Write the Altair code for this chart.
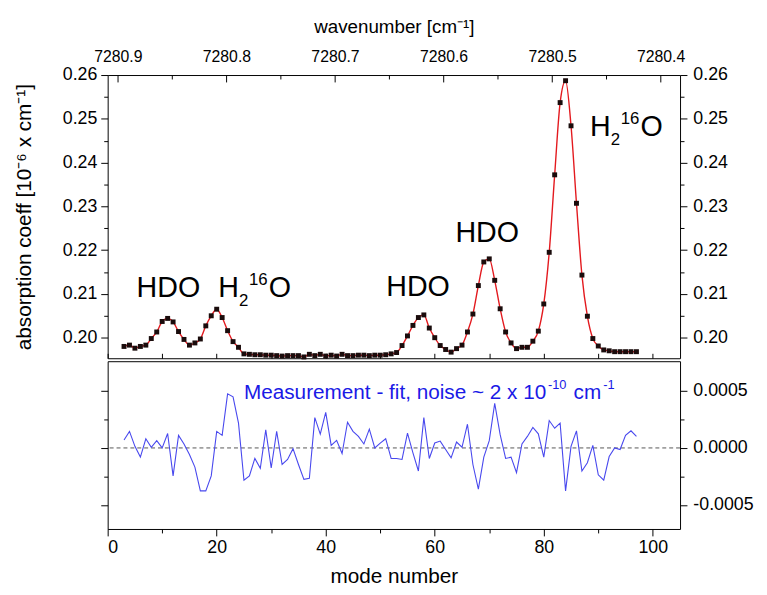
import altair as alt
import pandas as pd

# ---------------- data ----------------
modes = [3, 4, 5, 6, 7, 8, 9, 10, 11, 12, 13, 14, 15, 16, 17, 18, 19, 20, 21, 22,
         23, 24, 25, 26, 27, 28, 29, 30, 31, 32, 33, 34, 35, 36, 37, 38, 39, 40, 41, 42,
         43, 44, 45, 46, 47, 48, 49, 50, 51, 52, 53, 54, 55, 56, 57, 58, 59, 60, 61, 62,
         63, 64, 65, 66, 67, 68, 69, 70, 71, 72, 73, 74, 75, 76, 77, 78, 79, 80, 81, 82,
         83, 84, 85, 86, 87, 88, 89, 90, 91, 92, 93, 94, 95, 96, 97]

absorption = [0.1980, 0.1983, 0.1976, 0.1980, 0.1983, 0.1998, 0.2013, 0.2037, 0.2044, 0.2036,
              0.2014, 0.1996, 0.1983, 0.1988, 0.1997, 0.2027, 0.2050, 0.2065, 0.2046, 0.2016,
              0.1991, 0.1978, 0.1963, 0.1962, 0.1961, 0.1961, 0.1960, 0.1960, 0.1959, 0.1958,
              0.1959, 0.1959, 0.1959, 0.1956, 0.1962, 0.1959, 0.1962, 0.1958, 0.1960, 0.1958,
              0.1962, 0.1959, 0.1959, 0.1960, 0.1960, 0.1959, 0.1960, 0.1960, 0.1961, 0.1963,
              0.1966, 0.1982, 0.2004, 0.2028, 0.2046, 0.2052, 0.2022, 0.2000, 0.1982, 0.1973,
              0.1967, 0.1975, 0.1983, 0.2013, 0.2054, 0.2119, 0.2173, 0.2180, 0.2131, 0.2066,
              0.2013, 0.1988, 0.1975, 0.1978, 0.1978, 0.1992, 0.2015, 0.2077, 0.2195, 0.2372,
              0.2537, 0.2587, 0.2484, 0.2307, 0.2143, 0.2049, 0.1998, 0.1981, 0.1972, 0.1970,
              0.1968, 0.1968, 0.1968, 0.1968, 0.1968]

residual = [0.000070, 0.000145, 0.000014, -0.000080, 0.000080, 0.000006, 0.000064, 0.000000,
            0.000127, -0.000245, 0.000110, 0.000035, -0.000058, -0.000168, -0.000376, -0.000376,
            -0.000245, 0.000145, 0.000110, 0.000474, 0.000448, 0.000217, -0.000283, -0.000245,
            -0.000092, -0.000179, 0.000159, -0.000176, 0.000145, -0.000145, -0.000101, -0.000006,
            -0.000145, -0.000275, -0.000266, 0.000266, 0.000121, 0.000312, 0.000023, 0.000066,
            -0.000049, 0.000225, 0.000145, 0.000101, 0.000035, 0.000165, 0.000000, 0.000043,
            0.000081, -0.000092, -0.000092, -0.000101, 0.000130, -0.000043, -0.000202, 0.000266,
            -0.000092, 0.000043, 0.000060, -0.000014, -0.000087, 0.000052, 0.000006, 0.000208,
            -0.000145, -0.000361, -0.000081, 0.000064, 0.000390, 0.000116, -0.000092, -0.000081,
            -0.000217, 0.000035, 0.000101, 0.000179, 0.000124, -0.000081, 0.000240, 0.000173,
            0.000217, -0.000376, 0.000014, 0.000150, -0.000202, -0.000130, 0.000023, -0.000235,
            -0.000283, -0.000075, 0.000000, -0.000014, 0.000110, 0.000150, 0.000101]

# tick values / labels
x_ticks = [0, 10, 20, 30, 40, 50, 60, 70, 80, 90, 100]
wn_major_ticks = [7280.4, 7280.5, 7280.6, 7280.7, 7280.8, 7280.9]
wn_minor_ticks = [7280.45, 7280.55, 7280.65, 7280.75, 7280.85]
top_y_ticks = [0.200, 0.205, 0.210, 0.215, 0.220, 0.225, 0.230, 0.235, 0.240, 0.245,
               0.250, 0.255, 0.260]
res_y_ticks = [-0.0005, -0.00025, 0.0, 0.00025, 0.0005]

# annotations (anchor = left end of the text baseline, in data units)
hdo_label_mode = [5.3, 51.1, 63.8]
hdo_label_value = [0.2093, 0.2095, 0.2219]
h2o_label_mode = [20.3, 88.5]
h2o_label_value = [0.2093, 0.2460]
note_mode = [25.0]
note_value = [0.000433]

# scale domains (axis ranges)
x_domain = [0, 105]
wn_domain = [7280.3821, 7280.9094]
top_y_domain = [0.1953, 0.26]
res_y_domain = [-0.00071, 0.00076]

FONT = "Liberation Sans"
W = 580
H_TOP = 287
H_BOT = 170

df = pd.DataFrame({"mode": modes, "absorption": absorption, "residual": residual})
hdo_df = pd.DataFrame({"mode": hdo_label_mode, "value": hdo_label_value})
h2o_df = pd.DataFrame({"mode": h2o_label_mode, "value": h2o_label_value})
note_df = pd.DataFrame({"mode": note_mode, "value": note_value})

x_scale = alt.Scale(domain=x_domain, nice=False, zero=False)
wn_scale = alt.Scale(domain=wn_domain, reverse=True, nice=False, zero=False)
ytop_scale = alt.Scale(domain=top_y_domain, nice=False, zero=False)
yres_scale = alt.Scale(domain=res_y_domain, nice=False, zero=False)

top_y_major = "round(datum.value*200) % 2 === 0"
res_y_major = "round(datum.value*4000) % 2 === 0"
x_major = "round(datum.value) % 20 === 0"


def cond_size(test, big=7, small=4):
    return {"condition": {"test": test, "value": big}, "value": small}


def text_piece(data, yscale, text, size, color="black", dx=0, dy=0):
    return alt.Chart(data).mark_text(
        align="left", baseline="alphabetic", font=FONT, fontSize=size, color=color,
        dx=dx, dy=dy, text=text,
    ).encode(
        x=alt.X("mode:Q", scale=x_scale, axis=None),
        y=alt.Y("value:Q", scale=yscale, axis=None),
    )


# ---------------- top panel ----------------
fit_line = alt.Chart(df).mark_line(color="#e3191e", strokeWidth=1.4, interpolate="monotone").encode(
    x=alt.X("mode:Q", scale=x_scale,
            axis=alt.Axis(orient="bottom", values=x_ticks, labels=False, tickSize=5, offset=-5,
                          title=None)),
    y=alt.Y("absorption:Q", scale=ytop_scale,
            axis=alt.Axis(orient="left", values=top_y_ticks, format=".2f",
                          labelExpr=f"{top_y_major} ? datum.label : ''",
                          tickSize=cond_size(top_y_major),
                          title="absorption coeff [10\u207b\u2076 x cm\u207b\u00b9]",
                          titlePadding=28)),
)
pts = alt.Chart(df).mark_square(size=25, color="#1a0c0c", opacity=1).encode(
    x=alt.X("mode:Q", scale=x_scale, axis=None),
    y=alt.Y("absorption:Q", scale=ytop_scale, axis=None),
)
hdo_text = text_piece(hdo_df, ytop_scale, "HDO", 29)
h2o_H = text_piece(h2o_df, ytop_scale, "H", 29)
h2o_2 = text_piece(h2o_df, ytop_scale, "2", 17, dx=21, dy=9)
h2o_16 = text_piece(h2o_df, ytop_scale, "16", 17, dx=31, dy=-12)
h2o_O = text_piece(h2o_df, ytop_scale, "O", 29, dx=51)

wn_major_df = pd.DataFrame({"wn": wn_major_ticks})
wn_minor_df = pd.DataFrame({"wn": wn_minor_ticks})
top_axis_major = alt.Chart(wn_major_df).mark_point(opacity=0).encode(
    x=alt.X("wn:Q", scale=wn_scale,
            axis=alt.Axis(orient="top", values=wn_major_ticks, format=".1f", tickSize=7,
                          offset=-7, labelPadding=11, labelFontSize=16,
                          title="wavenumber [cm\u207b\u00b9]", titleFontSize=19, titlePadding=12)),
    y=alt.Y(datum=0.23, type="quantitative", scale=ytop_scale, axis=None),
)
top_axis_minor = alt.Chart(wn_minor_df).mark_point(opacity=0).encode(
    x=alt.X("wn:Q", scale=wn_scale,
            axis=alt.Axis(orient="top", values=wn_minor_ticks, labels=False, tickSize=4,
                          offset=-4, title=None)),
    y=alt.Y(datum=0.23, type="quantitative", scale=ytop_scale, axis=None),
)
ytop_df = pd.DataFrame({"v": top_y_ticks})
right_top = alt.Chart(ytop_df).mark_point(opacity=0).encode(
    x=alt.X(datum=50, type="quantitative", scale=x_scale, axis=None),
    y=alt.Y("v:Q", scale=ytop_scale,
            axis=alt.Axis(orient="right", values=top_y_ticks, format=".2f",
                          labelExpr=f"{top_y_major} ? datum.label : ''",
                          tickSize=cond_size(top_y_major), labelPadding=6, title=None)),
)
top_panel = alt.layer(
    fit_line, pts, hdo_text, h2o_H, h2o_2, h2o_16, h2o_O,
    top_axis_major, top_axis_minor, right_top,
).resolve_scale(x="independent", y="independent").properties(width=W, height=H_TOP)

# ---------------- bottom panel ----------------
zero_df = pd.DataFrame({"z": [0.0]})
res_line = alt.Chart(df).mark_line(color="#4848ee", strokeWidth=1.1).encode(
    x=alt.X("mode:Q", scale=x_scale,
            axis=alt.Axis(orient="bottom", values=x_ticks,
                          labelExpr=f"{x_major} ? datum.label : ''",
                          tickSize=cond_size(x_major), labelPadding=3,
                          title="mode number", titlePadding=9)),
    y=alt.Y("residual:Q", scale=yres_scale,
            axis=alt.Axis(orient="left", values=res_y_ticks, labels=False,
                          tickSize=cond_size(res_y_major), title=None)),
)
zero_rule = alt.Chart(zero_df).mark_rule(color="#555555", strokeDash=[4, 3], strokeWidth=1).encode(
    y=alt.Y("z:Q", scale=yres_scale, axis=None)
)
BLUE = "#1a1ae6"
note_main = text_piece(note_df, yres_scale, "Measurement - fit, noise ~ 2 x 10", 21, color=BLUE)
note_sup1 = text_piece(note_df, yres_scale, "-10", 13, color=BLUE, dx=308, dy=-10)
note_cm = text_piece(note_df, yres_scale, "cm", 21, color=BLUE, dx=334)
note_sup2 = text_piece(note_df, yres_scale, "-1", 13, color=BLUE, dx=364, dy=-10)

yres_df = pd.DataFrame({"v": res_y_ticks})
right_bot = alt.Chart(yres_df).mark_point(opacity=0).encode(
    x=alt.X(datum=50, type="quantitative", scale=x_scale, axis=None),
    y=alt.Y("v:Q", scale=yres_scale,
            axis=alt.Axis(orient="right", values=res_y_ticks, format=".4f",
                          labelExpr=f"{res_y_major} ? replace(datum.label, '\u2212', '-') : ''",
                          tickSize=cond_size(res_y_major), labelPadding=6, title=None)),
)
bottom_panel = alt.layer(
    zero_rule, res_line, note_main, note_sup1, note_cm, note_sup2, right_bot
).resolve_scale(x="independent", y="independent").properties(width=W, height=H_BOT)

chart = alt.vconcat(top_panel, bottom_panel, spacing=0).configure(
    background="white"
).configure_axis(
    labelFont=FONT, titleFont=FONT, labelFontSize=18, titleFontSize=21,
    labelColor="black", titleColor="black", tickColor="black", tickWidth=1,
    titleFontWeight="normal", grid=False, domain=False, labelPadding=4,
).configure_view(stroke="black", strokeWidth=1)

chart.save("out.html", embed_options={"renderer": "svg", "actions": False})
